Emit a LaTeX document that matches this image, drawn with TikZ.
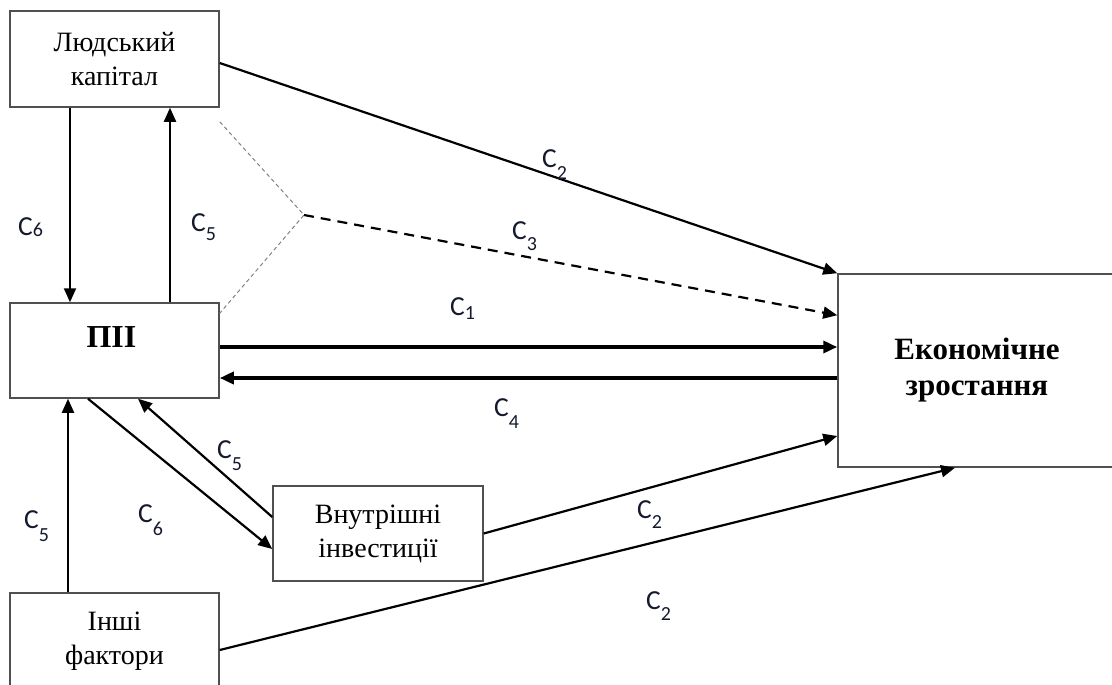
\documentclass[tikz,border=0pt]{standalone}
\usepackage{fontspec}
\setmainfont{Liberation Serif}
\newfontfamily\lblfont{Carlito}
\usetikzlibrary{arrows.meta,calc}
\newcommand\Csub[2]{C\raisebox{-#1pt}{\fontsize{20}{20}\selectfont #2}}
\tikzset{
  box/.style={draw={rgb,255:red,80;green,80;blue,80}, line width=1.5pt, fill=white, inner sep=0pt, align=center, font=\fontsize{28}{34}\selectfont},
  bigbold/.style={font=\fontsize{32}{36}\selectfont\bfseries, align=center},
  arr/.style={line width=2.2pt, -{Triangle[length=14pt,width=12pt]}},
  thickarr/.style={line width=3.6pt, -{Triangle[length=14pt,width=12pt]}},
  grayd/.style={draw={rgb,255:red,130;green,130;blue,130}, line width=1pt, dash pattern=on 4pt off 3pt},
  lbl/.style={font=\lblfont\fontsize{27.5}{27.5}\selectfont, anchor=base west, inner sep=0pt, text={rgb,255:red,20;green,25;blue,45}}
}
\begin{document}
\begin{tikzpicture}[x=1pt,y=-1pt]
\useasboundingbox (0,0) rectangle (1112,685);
\clip (0,0) rectangle (1112,685);
% boxes
\node[box, minimum width=209pt, minimum height=96pt] (lk) at (114.5,59) {Людський\\капітал};
\node[box, minimum width=209pt, minimum height=95pt] (pii) at (114.5,350.5) {};
\node[bigbold] (piit) at ([xshift=-3pt,yshift=13.5pt]pii.center) {ПІІ};
\node[box, minimum width=210pt, minimum height=95pt] (vi) at (378,533.5) {Внутрішні\\інвестиції};
\node[box, minimum width=209pt, minimum height=97pt] (inshi) at (114.5,641.5) {Інші\\фактори};
\node[box, minimum width=278pt, minimum height=193pt, font=\fontsize{31}{36}\selectfont\bfseries] (ez) at (977,370.5) {Економічне\\зростання};
% vertical arrows
\draw[arr] ([xshift=-44.5pt]lk.south) -- ([xshift=-44.5pt]pii.north);
\draw[arr] ([xshift=55.5pt]pii.north) -- ([xshift=55.5pt]lk.south);
\draw[arr] ([xshift=-46.5pt]inshi.north) -- ([xshift=-46.5pt]pii.south);
% gray dashed V and C3
\coordinate (v) at (304,215);
\draw[grayd] ([yshift=-14pt]lk.south east) -- (v) -- ([yshift=-11pt]pii.north east);
\draw[arr, dash pattern=on 10pt off 7pt] (v) -- ([yshift=-42pt]ez.north west);
% C2 top
\draw[arr] ([yshift=-4pt]lk.east) -- (ez.north west);
% C1, C4
\coordinate (c1s) at ([yshift=3.5pt]pii.east);
\draw[thickarr] (c1s) -- (c1s -| ez.west);
\coordinate (c4e) at ([yshift=-27.5pt]pii.east);
\draw[thickarr] (c4e -| ez.west) -- (c4e);
% diagonal PII <-> VI
\draw[arr] ([xshift=-26.5pt]pii.south) -- ([yshift=-15.5pt]vi.west);
\draw[arr] ([yshift=16.5pt]vi.west) -- ([xshift=23.5pt]pii.south);
% C2 from VI and inshi
\draw[arr] (vi.east) -- ([yshift=-65.5pt]ez.west);
\draw[arr] ([yshift=-8.5pt]inshi.east) -- ([xshift=-22pt]ez.south);
% labels
\node[lbl] (l6a) at (18,235) {\Csub{1}{6}};
\node[lbl] (l5a) at (191,231) {\Csub{9}{5}};
\node[lbl] (l2a) at (542,167) {\Csub{12}{2}};
\node[lbl] (l3) at (512,239) {\Csub{11}{3}};
\node[lbl] (l1) at (450,315) {\Csub{4}{1}};
\node[lbl] (l4) at (494,416) {\Csub{12}{4}};
\node[lbl] (l5b) at (217,458) {\Csub{12}{5}};
\node[lbl] (l6b) at (138,522) {\Csub{13}{6}};
\node[lbl] (l5c) at (24,528) {\Csub{13}{5}};
\node[lbl] (l2b) at (637,518) {\Csub{10}{2}};
\node[lbl] (l2c) at (646,609) {\Csub{11}{2}};
\end{tikzpicture}
\end{document}
